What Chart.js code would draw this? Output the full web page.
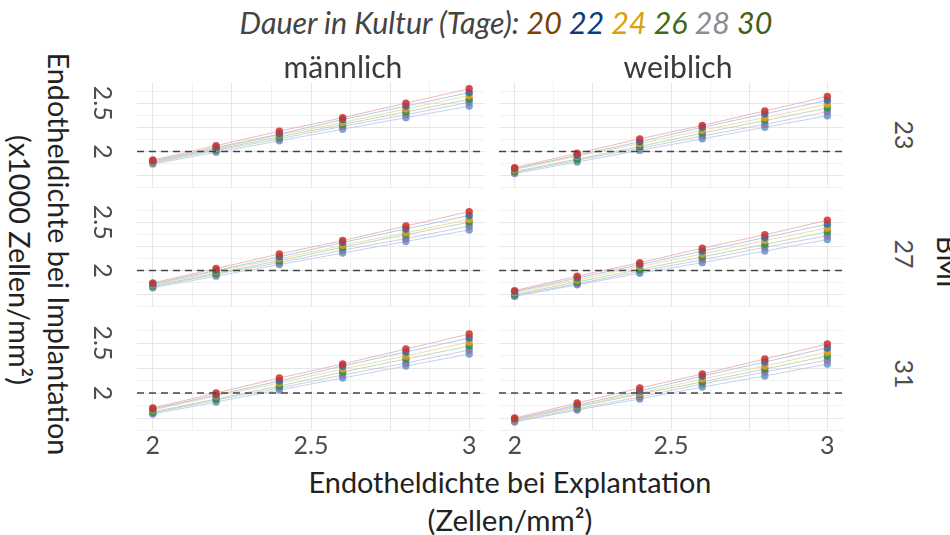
<!DOCTYPE html>
<html lang="de">
<head>
<meta charset="utf-8">
<title>Endotheldichte</title>
<script src="https://cdn.jsdelivr.net/npm/chart.js@4.4.1/dist/chart.umd.min.js"></script>
<style>
  body { margin: 0; background: #fff; }
  #wrap { position: relative; width: 950px; height: 535px; overflow: hidden; font-family: Lato, "Open Sans", sans-serif; }
  #wrap canvas { position: absolute; }
  .txt { position: absolute; left: 0; top: 0; white-space: nowrap; line-height: 1; color: #222; }
</style>
</head>
<body>
<div id="wrap"></div>
<script>
// Daten
const xWerte = [2, 2.2, 2.4, 2.6, 2.8, 3];
const dauerTage = ['20', '22', '24', '26', '28', '30'];
const geschlecht = ['männlich', 'weiblich'];
const bmiStufen = ['23', '27', '31'];
const xTicks = [2, 2.5, 3];
const yTicks = [2, 2.5];
const referenz = 2;

// eine Zeile pro Dauer (20 ... 30)
const m23 = [
  [1.91, 2.06, 2.21, 2.35, 2.50, 2.65],
  [1.90, 2.04, 2.18, 2.33, 2.47, 2.61],
  [1.89, 2.03, 2.17, 2.30, 2.44, 2.58],
  [1.89, 2.02, 2.15, 2.28, 2.41, 2.54],
  [1.88, 2.01, 2.13, 2.26, 2.38, 2.51],
  [1.87, 1.99, 2.11, 2.23, 2.35, 2.47]
];
const w23 = [
  [1.83, 1.98, 2.13, 2.27, 2.42, 2.57],
  [1.82, 1.96, 2.10, 2.25, 2.39, 2.53],
  [1.81, 1.95, 2.08, 2.22, 2.35, 2.49],
  [1.79, 1.92, 2.05, 2.19, 2.32, 2.45],
  [1.78, 1.91, 2.03, 2.16, 2.28, 2.41],
  [1.77, 1.89, 2.01, 2.13, 2.25, 2.37]
];
const m27 = [
  [1.87, 2.02, 2.17, 2.31, 2.46, 2.61],
  [1.86, 2.00, 2.14, 2.29, 2.43, 2.57],
  [1.85, 1.99, 2.12, 2.26, 2.39, 2.53],
  [1.84, 1.97, 2.10, 2.24, 2.37, 2.50],
  [1.83, 1.96, 2.08, 2.21, 2.33, 2.46],
  [1.82, 1.94, 2.06, 2.18, 2.30, 2.42]
];
const w27 = [
  [1.79, 1.94, 2.08, 2.23, 2.37, 2.52],
  [1.78, 1.92, 2.06, 2.20, 2.34, 2.48],
  [1.77, 1.90, 2.04, 2.17, 2.31, 2.44],
  [1.75, 1.88, 2.01, 2.14, 2.27, 2.40],
  [1.74, 1.86, 1.99, 2.11, 2.24, 2.36],
  [1.73, 1.85, 1.97, 2.08, 2.20, 2.32]
];
const m31 = [
  [1.85, 2.00, 2.15, 2.29, 2.44, 2.59],
  [1.84, 1.98, 2.12, 2.27, 2.41, 2.55],
  [1.83, 1.97, 2.10, 2.24, 2.37, 2.51],
  [1.81, 1.94, 2.07, 2.21, 2.34, 2.47],
  [1.80, 1.93, 2.05, 2.18, 2.30, 2.43],
  [1.79, 1.91, 2.03, 2.15, 2.27, 2.39]
];
const w31 = [
  [1.75, 1.90, 2.05, 2.19, 2.34, 2.49],
  [1.74, 1.88, 2.02, 2.17, 2.31, 2.45],
  [1.73, 1.87, 2.00, 2.14, 2.27, 2.41],
  [1.73, 1.86, 1.99, 2.11, 2.24, 2.37],
  [1.72, 1.84, 1.96, 2.09, 2.21, 2.33],
  [1.71, 1.83, 1.94, 2.06, 2.17, 2.29]
];
const panelDaten = [[m23, w23], [m27, w27], [m31, w31]];

// Farben
const punktFarben = ['rgba(204,52,48,0.88)', 'rgba(38,112,178,0.88)', 'rgba(238,150,38,0.88)', 'rgba(44,148,64,0.88)', 'rgba(138,118,184,0.88)', 'rgba(108,152,194,0.88)'];
const linienFarben = ['rgba(240,165,165,0.8)', 'rgba(150,192,228,0.8)', 'rgba(246,206,148,0.8)', 'rgba(165,214,165,0.8)', 'rgba(200,188,224,0.8)', 'rgba(172,204,226,0.8)'];
const titelFarben = ['#7f4000', '#0a3d78', '#d8a010', '#3f6a1c', '#8c8c8c', '#415e14'];

const wrap = document.getElementById('wrap');
const colLeft = [137, 495], rowTop = [78, 197, 317];
const plotW = 352, plotH = 114, yLabelW = 50, xLabelH = 32;

function gitterFarbe(ctx) {
  const v = ctx.tick ? ctx.tick.value : 0;
  return Math.abs(v * 4 - Math.round(v * 4)) < 1e-6 ? '#e6e6e6' : '#f1f1f1';
}

// Referenzlinie und gedrehte y-Beschriftung
const extras = {
  id: 'extras',
  afterDatasetsDraw(chart, args, opts) {
    const { ctx, chartArea: a, scales: { y } } = chart;
    const yp = y.getPixelForValue(referenz);
    ctx.save();
    ctx.strokeStyle = '#454545';
    ctx.lineWidth = 1.5;
    ctx.setLineDash([7, 5]);
    ctx.beginPath();
    ctx.moveTo(a.left, yp);
    ctx.lineTo(a.right, yp);
    ctx.stroke();
    ctx.restore();
    if (opts.yLabels) {
      ctx.save();
      ctx.fillStyle = '#4d4d4d';
      ctx.font = '25px Lato';
      ctx.textAlign = 'center';
      ctx.textBaseline = 'middle';
      yTicks.forEach(v => {
        ctx.save();
        ctx.translate(a.left - 35, y.getPixelForValue(v));
        ctx.rotate(Math.PI / 2);
        ctx.fillText(String(v), 0, 0);
        ctx.restore();
      });
      ctx.restore();
    }
  }
};

panelDaten.forEach((zeile, r) => {
  zeile.forEach((serien, c) => {
    const links = c === 0, unten = r === 2;
    const w = plotW + (links ? yLabelW : 0);
    const h = plotH + (unten ? xLabelH : 0);
    const canvas = document.createElement('canvas');
    canvas.width = w; canvas.height = h;
    canvas.style.width = w + 'px'; canvas.style.height = h + 'px';
    canvas.style.left = (colLeft[c] - (links ? yLabelW : 0)) + 'px';
    canvas.style.top = rowTop[r] + 'px';
    wrap.appendChild(canvas);

    const linien = serien.map((werte, i) => ({
      label: dauerTage[i],
      data: xWerte.map((x, j) => ({ x, y: werte[j] })),
      showLine: true, borderColor: linienFarben[i], borderWidth: 1,
      pointRadius: 0, order: 2
    }));
    const punkte = serien.map((werte, i) => ({
      label: dauerTage[i],
      data: xWerte.map((x, j) => ({ x, y: werte[j] })),
      showLine: false, backgroundColor: punktFarben[i], borderWidth: 0,
      pointRadius: 3.7, order: 1
    }));

    new Chart(canvas, {
      type: 'scatter',
      data: { datasets: punkte.concat(linien) },
      options: {
        responsive: false, animation: false, devicePixelRatio: 1, events: [],
        layout: { padding: { left: links ? yLabelW : 0 } },
        plugins: { legend: { display: false }, tooltip: { enabled: false }, extras: { yLabels: links } },
        scales: {
          x: {
            type: 'linear', min: 1.95, max: 3.05,
            border: { display: false },
            grid: { color: gitterFarbe, drawTicks: false },
            ticks: {
              display: unten, stepSize: 0.125, includeBounds: false, autoSkip: false, maxRotation: 0,
              font: { family: 'Lato', size: 25 }, color: '#4d4d4d', padding: 0,
              callback: v => xTicks.includes(v) ? String(v) : ''
            },
            afterFit: s => { s.height = unten ? xLabelH : 0; }
          },
          y: {
            type: 'linear', min: 1.62, max: 2.72,
            border: { display: false },
            grid: { color: gitterFarbe, drawTicks: false },
            ticks: { display: false, stepSize: 0.125, includeBounds: false, autoSkip: false },
            afterFit: s => { s.width = 0; }
          }
        }
      },
      plugins: [extras]
    });
  });
});

// Texte
function text(html, cx, cy, opts) {
  const el = document.createElement('div');
  el.className = 'txt';
  el.innerHTML = html;
  Object.assign(el.style, opts.style || {});
  el.style.fontSize = (opts.size || 100) + 'px';
  wrap.appendChild(el);
  if (opts.width) el.style.fontSize = (100 * opts.width / el.offsetWidth) + 'px';
  el.style.left = cx + 'px';
  el.style.top = cy + 'px';
  el.style.transform = 'translate(-50%, -50%)' + (opts.rotate ? ' rotate(90deg)' : '');
}

const titel = '<span style="color:#444">Dauer in Kultur (Tage): </span>' +
  dauerTage.map((d, i) => '<span style="color:' + titelFarben[i] + '">' + d + '</span>').join(' ');
text(titel, 506, 22, { width: 533, style: { fontStyle: 'italic' } });
text(geschlecht[0], 343, 66, { width: 119, style: { color: '#3a3a3a' } });
text(geschlecht[1], 678, 66, { width: 109, style: { color: '#3a3a3a' } });
text('Endotheldichte bei Explantation', 510, 482, { width: 403 });
text('(Zellen/mm²)', 510, 520, { width: 165 });
text('Endotheldichte bei Implantation', 59, 254, { width: 403, rotate: true });
text('(x1000 Zellen/mm²)', 20, 260, { width: 250, rotate: true });
bmiStufen.forEach((b, r) => {
  text(b, 904, rowTop[r] + plotH / 2, { size: 25, rotate: true, style: { color: '#4d4d4d' } });
});
text('BMI', 948, 262, { size: 28, rotate: true });
</script>
</body>
</html>
